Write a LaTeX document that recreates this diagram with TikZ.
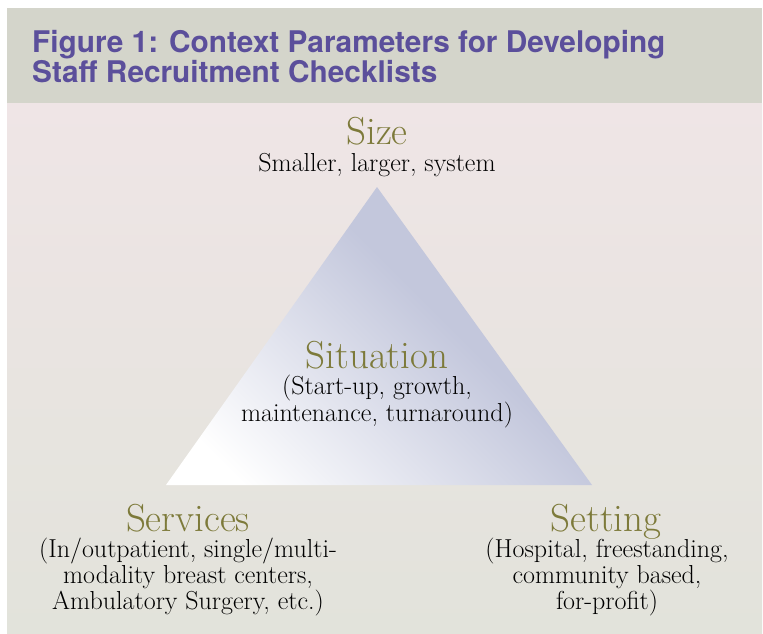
\documentclass[tikz,border=0pt]{standalone}
\usepackage{fontspec}
\setsansfont{TeX Gyre Heros}
\definecolor{ctxband}{RGB}{212,213,203}
\definecolor{ctxtop}{RGB}{239,229,230}
\definecolor{ctxbottom}{RGB}{226,227,219}
\definecolor{ctxtitle}{RGB}{91,79,155}
\definecolor{ctxhead}{RGB}{125,122,58}
\definecolor{ctxblue}{RGB}{195,199,220}
\pgfdeclareverticalshading{ctxfade}{100bp}{color(0bp)=(white);
  color(22bp)=(white); color(58bp)=(ctxblue); color(100bp)=(ctxblue)}
\begin{document}
\begin{tikzpicture}[
  heading/.style={anchor=base, inner sep=0pt, text=ctxhead,
    font=\fontsize{39}{42}\selectfont},
  detail/.style={anchor=base, inner sep=0pt, align=center, text=black,
    font=\fontsize{26}{25.8}\selectfont}]
% Context parameters, laid out on a 1pt pixel grid (y runs down)
\def\px{1pt}
\begin{scope}[x=\px, y=-\px]
  % Page
  \fill[white] (0,0) rectangle (763,634);
  \useasboundingbox (0,0) rectangle (763,634);
  % Panel background, pink at the top fading to grey
  \shade[top color=ctxtop, bottom color=ctxbottom] (7,103) rectangle (762,633);
  % Title band (base anchor sits on the last line)
  \fill[ctxband] (7,8) rectangle (762,103);
  \node[anchor=base west, inner sep=0pt, align=left, text=ctxtitle,
    font=\sffamily\bfseries\fontsize{29.8}{28}\selectfont] (title) at (32,82)
    {Figure 1: Context Parameters for Developing\\Staff Recruitment Checklists};
  % Triangle, white in the lower left corner
  \shade[shading=ctxfade, shading angle=-45]
    (377,187) -- (592,485) -- (166,485) -- cycle;
  % Corner labels
  \node[heading] (size) at (377,144) {Size};
  \node[detail] (sizetext) at (377,171) {Smaller, larger, system};
  \node[heading] (situation) at (377,368) {Situation};
  \node[detail] (situationtext) at (377,421)
    {(Start-up, growth,\\maintenance, turnaround)};
  \node[heading] (services) at (188,531) {Services};
  \node[detail] (servicestext) at (188,609)
    {(In/outpatient, single/multi-\\modality breast centers,\\Ambulatory Surgery, etc.)};
  \node[heading] (setting) at (606,531) {Setting};
  \node[detail] (settingtext) at (607,609)
    {(Hospital, freestanding,\\community based,\\for-profit)};
\end{scope}
\end{tikzpicture}
\end{document}
